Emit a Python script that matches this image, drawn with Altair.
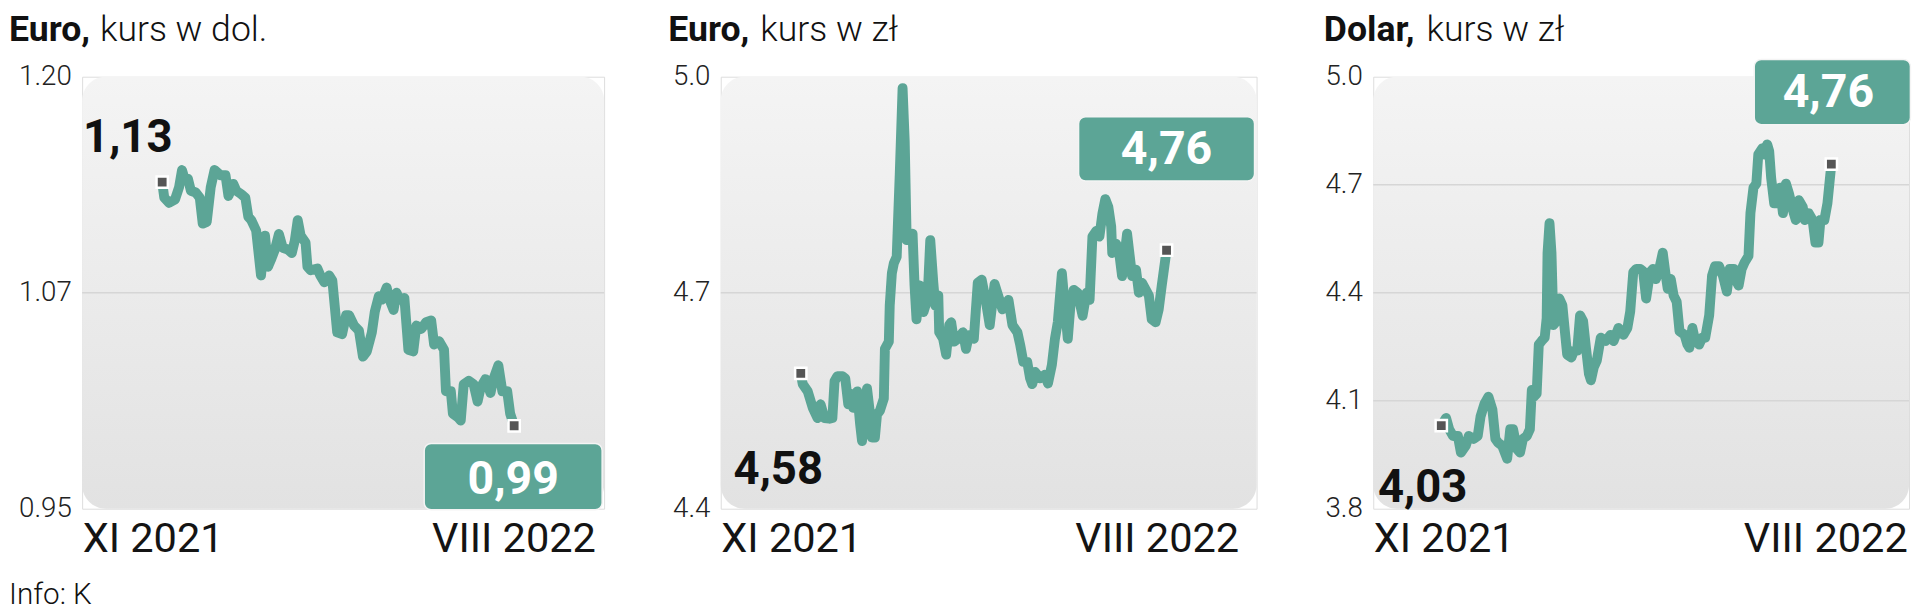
import altair as alt
import pandas as pd

# ---------------- data ----------------
eurusd_day = [46.0, 47.2, 50.0, 53.4, 55.7, 57.4, 59.1, 60.8, 62.5, 65.3, 67.6, 69.3, 71.6, 73.9, 76.1,
              79.5, 82.4, 84.1, 86.9, 88.6, 91.5, 93.8, 95.5, 97.2, 100.0, 102.8, 105.1, 106.8, 108.5, 110.8,
              113.1, 115.3, 118.2, 120.5, 122.2, 123.9, 125.6, 128.4, 129.5, 131.3, 135.2, 136.9, 139.2, 142.0, 143.8,
              146.6, 149.4, 151.7, 153.4, 156.3, 159.1, 161.4, 163.6, 166.5, 168.2, 170.5, 172.2, 175.0, 176.7, 179.0,
              180.7, 182.4, 185.2, 187.5, 190.3, 192.1, 194.9, 197.7, 200.6, 202.3, 205.1, 208.0, 209.1, 211.9, 213.1,
              215.9, 217.6, 219.3, 222.2, 225.0, 227.3, 229.0, 231.8, 234.7, 236.4, 239.2, 241.5, 244.3, 246.0, 248.3]
eurusd_val = [1.139, 1.130, 1.127, 1.129, 1.136, 1.146, 1.140, 1.141, 1.134, 1.133, 1.130, 1.115, 1.116, 1.136, 1.146,
              1.143, 1.143, 1.131, 1.138, 1.134, 1.132, 1.130, 1.119, 1.117, 1.111, 1.085, 1.108, 1.090, 1.094, 1.100,
              1.109, 1.101, 1.100, 1.098, 1.105, 1.117, 1.108, 1.104, 1.090, 1.088, 1.089, 1.085, 1.081, 1.085, 1.082,
              1.052, 1.051, 1.062, 1.062, 1.056, 1.053, 1.038, 1.041, 1.052, 1.064, 1.073, 1.071, 1.078, 1.071, 1.065,
              1.075, 1.071, 1.072, 1.042, 1.041, 1.056, 1.054, 1.058, 1.059, 1.045, 1.047, 1.042, 1.018, 1.018, 1.005,
              1.003, 1.001, 1.022, 1.024, 1.022, 1.012, 1.020, 1.025, 1.017, 1.025, 1.033, 1.018, 1.018, 1.005, 0.998]

eurpln_day = [44.8, 45.9, 48.7, 51.5, 54.2, 55.9, 58.1, 60.9, 62.5, 63.7, 65.3, 68.1, 69.7, 71.4, 72.5,
              74.2, 76.4, 78.0, 79.1, 80.3, 81.9, 83.6, 84.7, 86.3, 87.5, 89.1, 91.3, 91.9, 94.1, 94.6,
              95.8, 96.9, 98.5, 100.2, 101.8, 103.0, 104.1, 105.7, 107.4, 108.5, 109.6, 111.3, 113.5, 114.6, 116.2,
              117.3, 119.0, 120.1, 121.8, 122.3, 124.5, 126.2, 127.9, 129.0, 130.6, 132.8, 135.6, 137.3, 138.9, 141.7,
              143.9, 146.1, 148.3, 150.6, 153.3, 157.7, 161.1, 163.3, 166.1, 167.7, 169.4, 171.6, 173.2, 174.4, 176.0,
              178.8, 181.5, 183.2, 185.4, 187.1, 188.7, 191.0, 192.6, 194.3, 195.9, 197.6, 199.8, 202.6, 204.8, 206.5,
              208.1, 210.3, 212.0, 213.7, 215.3, 217.0, 218.6, 219.2, 221.4, 223.1, 224.7, 227.5, 228.6, 230.3, 232.5,
              234.1, 235.8, 238.0, 239.7, 241.3, 243.5, 245.2, 246.9, 249.6]
eurpln_val = [4.588, 4.573, 4.563, 4.540, 4.526, 4.545, 4.526, 4.525, 4.526, 4.577, 4.584, 4.584, 4.581, 4.545, 4.560,
              4.540, 4.563, 4.518, 4.494, 4.526, 4.567, 4.531, 4.499, 4.499, 4.531, 4.536, 4.553, 4.622, 4.632, 4.682,
              4.727, 4.741, 4.750, 4.864, 4.984, 4.910, 4.773, 4.778, 4.782, 4.710, 4.663, 4.710, 4.673, 4.682, 4.714,
              4.773, 4.714, 4.682, 4.696, 4.645, 4.636, 4.614, 4.655, 4.659, 4.632, 4.636, 4.645, 4.622, 4.641, 4.636,
              4.714, 4.718, 4.690, 4.655, 4.712, 4.677, 4.690, 4.655, 4.645, 4.627, 4.604, 4.604, 4.581, 4.573, 4.590,
              4.581, 4.586, 4.574, 4.600, 4.636, 4.659, 4.727, 4.682, 4.636, 4.686, 4.704, 4.700, 4.668, 4.700, 4.690,
              4.778, 4.786, 4.778, 4.810, 4.830, 4.819, 4.792, 4.755, 4.768, 4.755, 4.723, 4.782, 4.759, 4.723, 4.732,
              4.700, 4.714, 4.704, 4.696, 4.663, 4.659, 4.677, 4.710, 4.759]

usdpln_day = [38.1, 40.8, 42.5, 44.7, 47.4, 49.1, 51.8, 53.5, 56.3, 58.5, 60.1, 62.3, 64.5, 66.7, 68.4,
              70.0, 72.2, 75.0, 76.7, 78.3, 80.5, 82.2, 83.8, 86.0, 87.7, 88.8, 89.9, 91.5, 92.7, 94.3,
              96.0, 97.1, 97.6, 98.7, 99.8, 100.9, 102.6, 104.2, 105.9, 107.5, 108.6, 110.9, 112.5, 114.2, 115.8,
              117.5, 119.1, 120.8, 121.9, 123.5, 125.2, 127.4, 130.2, 132.9, 134.6, 137.3, 140.1, 142.3, 143.9, 145.6,
              147.3, 149.5, 151.1, 152.8, 155.0, 156.6, 158.3, 160.5, 162.1, 163.8, 164.9, 166.6, 168.2, 169.9, 171.5,
              174.3, 175.9, 177.0, 178.7, 180.3, 182.5, 184.2, 185.9, 188.1, 189.7, 191.4, 193.6, 195.8, 198.0, 199.6,
              201.9, 203.5, 204.6, 206.3, 207.9, 210.1, 211.2, 212.9, 214.5, 215.6, 217.8, 218.9, 220.6, 221.7, 222.8,
              224.5, 226.1, 227.8, 229.4, 231.1, 232.8, 235.0, 236.6, 238.3, 240.5, 241.6, 243.8, 246.0, 247.6, 249.3,
              250.4, 252.6, 254.3, 256.5]
usdpln_val = [4.031, 4.052, 4.021, 4.002, 4.002, 3.956, 3.975, 4.002, 3.994, 4.002, 4.056, 4.092, 4.111, 4.076, 3.994,
              3.983, 3.975, 3.939, 4.021, 4.021, 3.966, 3.956, 3.994, 4.002, 4.021, 4.130, 4.111, 4.119, 4.256, 4.266,
              4.275, 4.329, 4.511, 4.593, 4.511, 4.310, 4.321, 4.384, 4.365, 4.283, 4.228, 4.220, 4.239, 4.239, 4.337,
              4.321, 4.247, 4.174, 4.157, 4.193, 4.212, 4.275, 4.266, 4.283, 4.266, 4.302, 4.283, 4.302, 4.348, 4.457,
              4.466, 4.466, 4.460, 4.384, 4.457, 4.466, 4.438, 4.474, 4.511, 4.447, 4.411, 4.438, 4.392, 4.375, 4.293,
              4.283, 4.256, 4.247, 4.302, 4.266, 4.256, 4.275, 4.275, 4.337, 4.447, 4.474, 4.474, 4.447, 4.403, 4.466,
              4.466, 4.430, 4.420, 4.466, 4.484, 4.502, 4.621, 4.692, 4.703, 4.784, 4.801, 4.784, 4.812, 4.793, 4.719,
              4.648, 4.648, 4.692, 4.621, 4.703, 4.675, 4.629, 4.602, 4.657, 4.638, 4.602, 4.621, 4.602, 4.539, 4.539,
              4.602, 4.602, 4.648, 4.757]

titles_bold = ["Euro,", "Euro,", "Dolar,"]
titles_rest = ["kurs w dol.", "kurs w zł", "kurs w zł"]
y_domains = [[0.95, 1.20], [4.4, 5.0], [3.8, 5.0]]
y_ticks = [[0.95, 1.075, 1.20], [4.4, 4.7, 5.0], [3.8, 4.1, 4.4, 4.7, 5.0]]
y_tick_labels = [["0.95", "1.07", "1.20"], ["4.4", "4.7", "5.0"], ["3.8", "4.1", "4.4", "4.7", "5.0"]]
x_labels = ["XI 2021", "VIII 2022"]
start_labels = ["1,13", "4,58", "4,03"]
end_labels = ["0,99", "4,76", "4,76"]
source_note = "Info: K"

series = [(eurusd_day, eurusd_val), (eurpln_day, eurpln_val), (usdpln_day, usdpln_val)]

# ---------------- styling ----------------
TEAL = "#5ca596"
FONT = "Roboto"
H = 437
widths = [528, 542, 542]
x_right_label = [295, 290, 299]
title_rest_dx = [18, 40, 54]
title_bold_dx = [-74, -53, -50]
start_off = [(-80, -30), (-68, 112), (-64, 77)]
box_off = [(-91, 89, 18, 85), (-89, 89, -135, -70), (-78, 80, -106, -40)]
box_text_off = [(-1, 55), (0, -101), (-3, -72)]

grad = alt.LinearGradient(
    gradient="linear",
    stops=[alt.GradientStop(color="#f4f4f4", offset=0), alt.GradientStop(color="#e2e2e2", offset=1)],
    x1=0, x2=0, y1=0, y2=1,
)


def label_expr(ticks, labels):
    expr = f"'{labels[-1]}'"
    for t, l in reversed(list(zip(ticks[:-1], labels[:-1]))):
        expr = f"abs(datum.value - {t}) < 1e-6 ? '{l}' : ({expr})"
    return expr


def panel(i):
    days, vals = series[i]
    df = pd.DataFrame({"day": days, "val": vals})
    first = df.iloc[[0]]
    last = df.iloc[[-1]]
    ends = df.iloc[[0, -1]]
    lo, hi = y_domains[i]
    xs = alt.Scale(domain=[0, 300], nice=False, zero=False)
    ys = alt.Scale(domain=[lo, hi], nice=False, zero=False)

    x_axis = alt.Axis(
        values=[0, x_right_label[i]],
        labelExpr=f"datum.value < 150 ? '{x_labels[0]}' : '{x_labels[1]}'",
        labelAlign={"condition": {"test": "datum.value < 150", "value": "left"}, "value": "right"},
        labelFlush=False, labelOverlap=False, ticks=False, domain=False, grid=False,
        labelFontSize=42, labelPadding=10, labelColor="#141414", title=None, labelFont=FONT,
    )
    y_axis = alt.Axis(
        values=y_ticks[i], labelExpr=label_expr(y_ticks[i], y_tick_labels[i]),
        ticks=False, domain=False, grid=False, labelFontSize=28, labelFontWeight=300,
        labelPadding=11, labelColor="#222222", title=None, minExtent=74, maxExtent=74,
        labelFont=FONT, labelOverlap=False,
    )

    frame = pd.DataFrame({"x0": [0], "x1": [300], "y0": [lo], "y1": [hi]})
    bg = alt.Chart(frame).mark_rect(cornerRadius=24, color=grad).encode(
        x=alt.X("x0:Q", scale=xs, axis=x_axis),
        x2="x1",
        y=alt.Y("y0:Q", scale=ys, axis=y_axis),
        y2="y1",
    )
    grid_df = pd.DataFrame({"g": y_ticks[i][1:-1]})
    grid = alt.Chart(grid_df).mark_rule(color="#d6d6d6", strokeWidth=1.5).encode(y="g:Q")

    line = alt.Chart(df).mark_line(
        color=TEAL, strokeWidth=10, strokeJoin="round", strokeCap="round"
    ).encode(x="day:Q", y="val:Q")

    sq = alt.Chart(ends).mark_square(
        size=130, color="#555555", stroke="white", strokeWidth=2.5, opacity=1, filled=True
    ).encode(x="day:Q", y="val:Q")

    sdx, sdy = start_off[i]
    start_txt = alt.Chart(first).mark_text(
        text=start_labels[i], align="left", baseline="alphabetic", dx=sdx, dy=sdy,
        fontSize=46, fontWeight="bold", color="#111111", font=FONT,
    ).encode(x="day:Q", y="val:Q")

    a, b, c, d = box_off[i]
    box = alt.Chart(last).mark_rect(
        color=TEAL, stroke="#f4f4f4", strokeWidth=1.5, cornerRadius=7,
        xOffset=a, x2Offset=b, yOffset=c, y2Offset=d,
    ).encode(x="day:Q", x2="day", y="val:Q", y2="val")

    tdx, tdy = box_text_off[i]
    box_txt = alt.Chart(last).mark_text(
        text=end_labels[i], align="center", baseline="middle", dx=tdx, dy=tdy,
        fontSize=47, fontWeight="bold", color="white", font=FONT,
    ).encode(x="day:Q", y="val:Q")

    tdf = pd.DataFrame({"b": [titles_bold[i]], "r": [titles_rest[i]]})
    t_bold = alt.Chart(tdf).mark_text(
        align="left", baseline="top", fontSize=36, fontWeight="bold", color="#111111", font=FONT,
    ).encode(x=alt.value(title_bold_dx[i]), y=alt.value(-64), text="b:N")
    t_rest = alt.Chart(tdf).mark_text(
        align="left", baseline="top", fontSize=36, fontWeight=300, color="#111111", font=FONT,
    ).encode(x=alt.value(title_rest_dx[i]), y=alt.value(-64), text="r:N")

    layers = [bg, grid, line, sq, start_txt, box, box_txt, t_bold, t_rest]
    if i == 0:
        ndf = pd.DataFrame({"n": [source_note]})
        note = alt.Chart(ndf).mark_text(
            align="left", baseline="alphabetic", fontSize=30, fontWeight=300, color="#111111", font=FONT,
        ).encode(x=alt.value(-74), y=alt.value(H + 96), text="n:N")
        layers.append(note)

    return alt.layer(*layers).properties(width=widths[i], height=H)


chart = alt.HConcatChart(
    hconcat=[panel(0), panel(1), panel(2)],
    spacing=118,
    bounds="flush",
    padding={"left": 0, "top": 0, "right": 0, "bottom": 0},
).configure_view(stroke=None).configure(font=FONT)

chart.save("out.html", embed_options={"renderer": "svg", "actions": False})
